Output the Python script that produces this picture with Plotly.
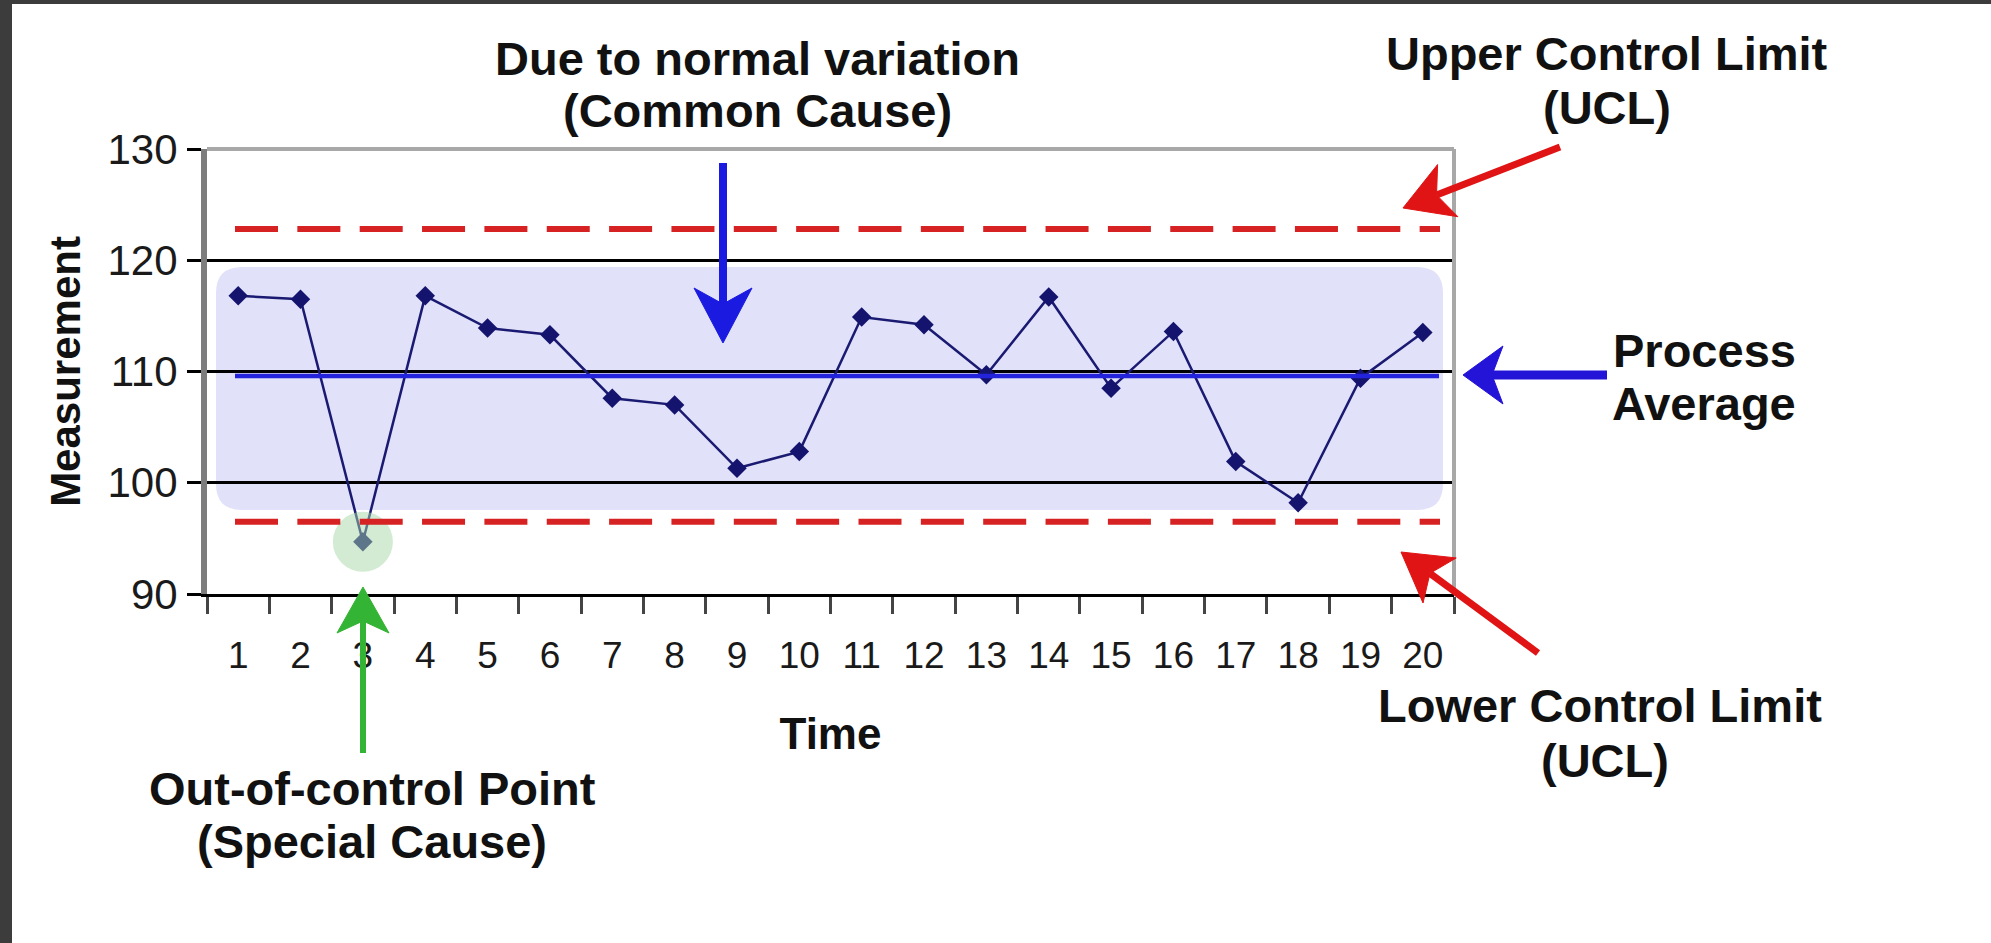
import math
import plotly.graph_objects as go

# ---------------- data ----------------
time_labels = [str(i) for i in range(1, 21)]
measurements = [116.8, 116.5, 94.7, 116.8, 113.9, 113.3, 107.6, 107.0, 101.3, 102.8,
                114.9, 114.2, 109.7, 116.7, 108.5, 113.6, 101.9, 98.2, 109.4, 113.5]
process_average = 109.6
ucl = 122.8
lcl = 96.5
y_ticks = [90, 100, 110, 120, 130]
out_of_control_index = 2

# ---------------- geometry helpers (pixel -> paper) ----------------
W, H = 1991, 943
L, R, T, B = 207, 1454, 149, 594


def px(x):
    return (x - L) / (R - L)


def py(y):
    return (B - y) / (B - T)


def path_from(points):
    s = "M {:.5f},{:.5f} ".format(px(points[0][0]), py(points[0][1]))
    for (x, y) in points[1:]:
        s += "L {:.5f},{:.5f} ".format(px(x), py(y))
    return s + "Z"


def arrow_shapes(tail, tip, shaft_w, head_len, head_w, notch, color):
    dx, dy = tip[0] - tail[0], tip[1] - tail[1]
    n = math.hypot(dx, dy)
    ux, uy = dx / n, dy / n
    vx, vy = -uy, ux
    bx, by = tip[0] - ux * head_len, tip[1] - uy * head_len
    c1 = (bx + vx * head_w / 2, by + vy * head_w / 2)
    c2 = (bx - vx * head_w / 2, by - vy * head_w / 2)
    nt = (bx + ux * notch, by + uy * notch)
    shaft = dict(type="line", xref="paper", yref="paper",
                 x0=px(tail[0]), y0=py(tail[1]), x1=px(nt[0]), y1=py(nt[1]),
                 line=dict(color=color, width=shaft_w), layer="above")
    head = dict(type="path", xref="paper", yref="paper",
                path=path_from([tip, c1, nt, c2]),
                fillcolor=color, line=dict(color=color, width=1), layer="above")
    return [shaft, head]


def rounded_rect(x0, y0, x1, y1, r):
    # pixel coords, y0 top, y1 bottom
    rx = r / (R - L)
    ry = r / (B - T)
    X0, X1 = px(x0), px(x1)
    YT, YB = py(y0), py(y1)
    return ("M {a},{t} L {b},{t} Q {X1},{t} {X1},{t2} L {X1},{b2} Q {X1},{YB} {b},{YB} "
            "L {a},{YB} Q {X0},{YB} {X0},{b2} L {X0},{t2} Q {X0},{t} {a},{t} Z").format(
        a=X0 + rx, b=X1 - rx, t=YT, t2=YT - ry, b2=YB + ry, X0=X0, X1=X1, YB=YB)


FONT = "Liberation Sans, Arial, sans-serif"

fig = go.Figure()

fig.add_trace(go.Scatter(
    x=time_labels, y=measurements, mode="lines+markers",
    line=dict(color="#1a1a72", width=2.5),
    marker=dict(symbol="diamond", size=15, color="#14146e"),
    hoverinfo="x+y", showlegend=False))

# halo around the out-of-control point
fig.add_trace(go.Scatter(
    x=[time_labels[out_of_control_index]], y=[measurements[out_of_control_index]],
    mode="markers",
    marker=dict(symbol="circle", size=60, color="rgba(165,216,165,0.5)",
                line=dict(width=0)),
    hoverinfo="skip", showlegend=False))

shapes = []
# frame of the picture (dark edges)
shapes.append(dict(type="rect", xref="paper", yref="paper", x0=px(0), x1=px(12),
                   y0=py(H), y1=py(0), fillcolor="#3c3c3c", line=dict(width=0), layer="above"))
shapes.append(dict(type="rect", xref="paper", yref="paper", x0=px(0), x1=px(W),
                   y0=py(4), y1=py(0), fillcolor="#3c3c3c", line=dict(width=0), layer="above"))
# shaded control band
shapes.append(dict(type="path", xref="paper", yref="paper",
                   path=rounded_rect(216, 267, 1443, 510, 26),
                   fillcolor="#e1e1f9", line=dict(width=0), layer="below"))
# limit lines
for val in (ucl, lcl):
    shapes.append(dict(type="line", xref="paper", yref="y", x0=px(235), x1=px(1440),
                       y0=val, y1=val, layer="above",
                       line=dict(color="#d62222", width=6, dash="43px,19.35px")))
shapes.append(dict(type="line", xref="paper", yref="y", x0=px(235), x1=px(1439),
                   y0=process_average, y1=process_average, layer="above",
                   line=dict(color="#2323dc", width=4.5)))
# gray top and right frame of plot area
shapes.append(dict(type="line", xref="paper", yref="paper", x0=0, x1=1, y0=1, y1=1,
                   line=dict(color="#a8a8a8", width=4), layer="above"))
shapes.append(dict(type="line", xref="paper", yref="paper", x0=1, x1=1, y0=0, y1=1,
                   line=dict(color="#a8a8a8", width=4), layer="above"))

# arrows
shapes += arrow_shapes((723, 163), (723, 343), 8, 55, 58, 16, "#1a1ae0")
shapes += arrow_shapes((1560, 147), (1403, 208), 7, 48, 56, 12, "#e01414")
shapes += arrow_shapes((1607, 375), (1463, 375), 9, 40, 58, 11, "#2414d8")
shapes += arrow_shapes((1538, 653), (1401, 552), 7, 48, 56, 12, "#e01414")
shapes += arrow_shapes((363, 753), (363, 587), 6, 46, 52, 12, "#34b434")

annotations = []
texts = [
    ("Due to normal variation", 757, 58),
    ("(Common Cause)", 757, 111),
    ("Upper Control Limit", 1607, 54),
    ("(UCL)", 1607, 108),
    ("Process", 1704, 350),
    ("Average", 1704, 403),
    ("Lower Control Limit", 1600, 705),
    ("(UCL)", 1605, 760),
    ("Out-of-control Point", 372, 788),
    ("(Special Cause)", 372, 842),
]
for t, x, y in texts:
    annotations.append(dict(text="<b>%s</b>" % t, xref="paper", yref="paper",
                            x=px(x), y=py(y), xanchor="center", yanchor="middle",
                            showarrow=False,
                            font=dict(family=FONT, size=47, color="#111111")))

fig.update_layout(
    width=W, height=H,
    margin=dict(l=L, r=W - R, t=T, b=H - B, pad=0),
    paper_bgcolor="white", plot_bgcolor="rgba(0,0,0,0)",
    shapes=shapes, annotations=annotations, showlegend=False,
    xaxis=dict(type="category", range=[-0.5, 19.5], tickson="boundaries",
               ticks="outside", ticklen=17, tickangle=0,
               tickwidth=3, tickcolor="#444444", showline=True, linecolor="black",
               linewidth=3, showgrid=False, zeroline=False,
               tickfont=dict(family=FONT, size=37, color="#1a1a1a"),
               ticklabelstandoff=27,
               title=dict(text="<b>Time</b>", standoff=43,
                          font=dict(family=FONT, size=44, color="#111111"))),
    yaxis=dict(range=[90, 130], tickvals=y_ticks, ticks="outside", ticklen=14,
               tickwidth=3, tickcolor="black", showline=True, linecolor="#7d7d7d",
               linewidth=6, showgrid=True, gridcolor="black", gridwidth=3,
               zeroline=False,
               tickfont=dict(family=FONT, size=42, color="#1a1a1a"),
               ticklabelstandoff=1,
               title=dict(text="<b>Measurement</b>", standoff=16,
                          font=dict(family=FONT, size=42, color="#111111"))),
)

fig.write_html("out.html", config={"displayModeBar": False},
               post_script="document.body.style.margin='0';document.body.style.overflow='hidden';")
